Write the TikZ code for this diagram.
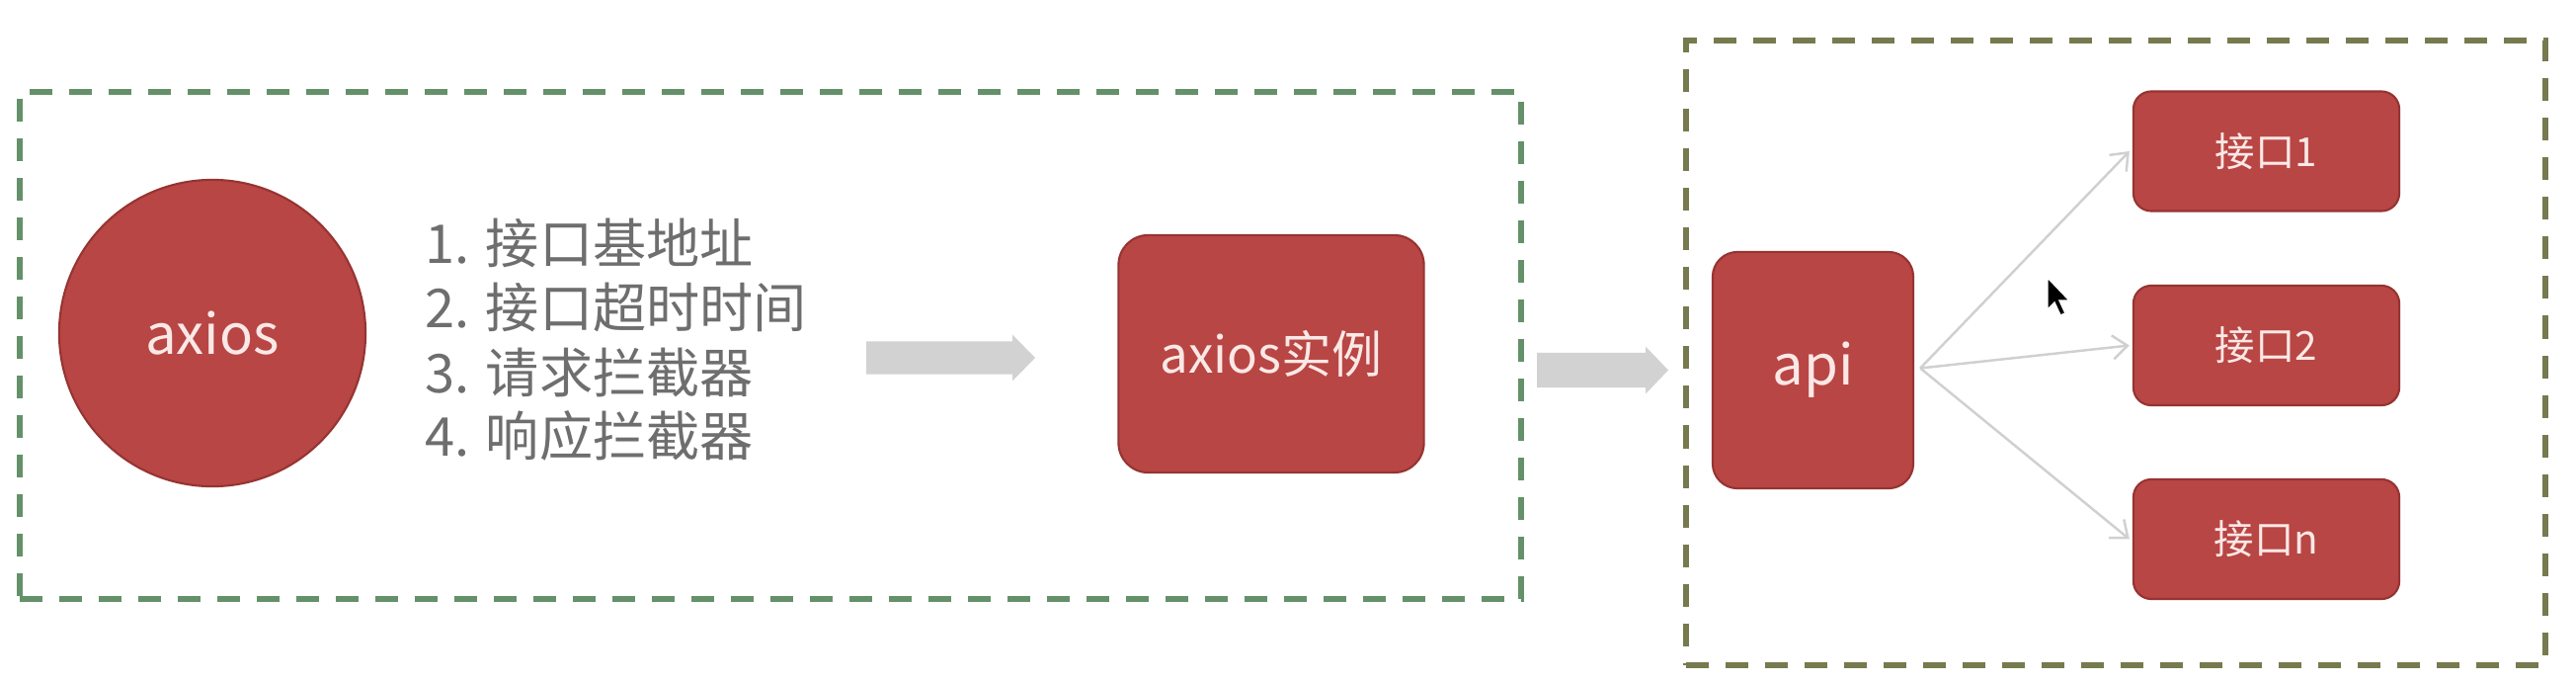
\documentclass[tikz,border=0pt]{standalone}
\usepackage{fontspec}
\setmainfont{Noto Sans CJK SC}
\usetikzlibrary{arrows.meta,calc}
\definecolor{boxred}{RGB}{184,70,68}
\definecolor{boxedge}{RGB}{150,52,50}
\definecolor{boxtext}{RGB}{250,232,230}
\definecolor{listgray}{RGB}{110,110,110}
\definecolor{greendash}{RGB}{100,145,105}
\definecolor{olivedash}{RGB}{118,122,78}
\definecolor{fatgray}{RGB}{210,210,210}
\definecolor{thingray}{RGB}{208,208,208}
\begin{document}
\begin{tikzpicture}[x=0.01cm,y=-0.01cm,
 redbox/.style={draw=boxedge, line width=0.6pt, fill=boxred, text=boxtext, inner sep=0pt},
 group/.style={line width=1.7pt, dash pattern=on 0.23cm off 0.17cm, inner sep=0pt},
 thinarrow/.style={draw=thingray, line width=0.7pt, -{Straight Barb[length=0.15cm,width=0.24cm]}},
 listtext/.style={anchor=base west, text=listgray, font=\fontsize{15.4pt}{18pt}\selectfont, inner sep=0pt},
 bigfont/.style={font=\fontsize{16pt}{19pt}\selectfont},
 midfont/.style={font=\fontsize{14.5pt}{17pt}\selectfont},
 smallfont/.style={font=\fontsize{11.5pt}{14pt}\selectfont}
]
\useasboundingbox[fill=white] (0,0) rectangle (2608,691);

% group frames
\node[group, draw=greendash, minimum width=15.2cm, minimum height=5.13cm] (leftgroup) at (780,349.5) {};
\node[group, draw=olivedash, minimum width=8.70cm, minimum height=6.31cm] (rightgroup) at (2142,357) {};

% nodes
\node[redbox, circle, minimum size=3.1cm, bigfont] (axios) at (215,337) {axios};
\node[listtext] (l1) at (430,267) {1. 接口基地址};
\node[listtext] (l2) at (430,332) {2. 接口超时时间};
\node[listtext] (l3) at (430,397) {3. 请求拦截器};
\node[listtext] (l4) at (430,461) {4. 响应拦截器};
\node[redbox, rounded corners=0.3cm, minimum width=3.09cm, minimum height=2.4cm, midfont] (inst) at (1287,358) {axios实例};
\node[redbox, rounded corners=0.25cm, minimum width=2.03cm, minimum height=2.39cm, bigfont] (api) at (1835.5,374.5) {api};
\node[redbox, rounded corners=0.18cm, minimum width=2.69cm, minimum height=1.21cm, smallfont] (p1) at (2294.5,153) {接口1};
\node[redbox, rounded corners=0.18cm, minimum width=2.69cm, minimum height=1.21cm, smallfont] (p2) at (2294.5,349.5) {接口2};
\node[redbox, rounded corners=0.18cm, minimum width=2.69cm, minimum height=1.21cm, smallfont] (pn) at (2294.5,545.5) {接口n};

% fat grey arrows
\coordinate (a1s) at (877,362);
\coordinate (a1e) at (1048,362);
\fill[fatgray] (a1s) ++(0,-16.5) -- ++(148,0) -- ++(0,-7) -- (a1e) -- ++(-23,23.5) -- ++(0,-7) -- ++(-148,0) -- cycle;
\coordinate (a2s) at (1556,374.5);
\coordinate (a2e) at (1689,374.5);
\fill[fatgray] (a2s) ++(0,-17.5) -- ++(110,0) -- ++(0,-6.5) -- (a2e) -- ++(-23,24) -- ++(0,-6.5) -- ++(-110,0) -- cycle;

% thin arrows
\coordinate (fork) at ($(api.east)+(6,-2)$);
\draw[thinarrow] (fork) -- ([xshift=-0.03cm]p1.west);
\draw[thinarrow] (fork) -- ([xshift=-0.03cm]p2.west);
\draw[thinarrow] (fork) -- ([xshift=-0.03cm]pn.west);

% mouse pointer
\fill[black, draw=white, line width=0.4pt] (2073,281) -- (2073,313) -- (2080,306) -- (2086,319) -- (2091,317) -- (2085,304) -- (2095,304) -- cycle;
\end{tikzpicture}
\end{document}
